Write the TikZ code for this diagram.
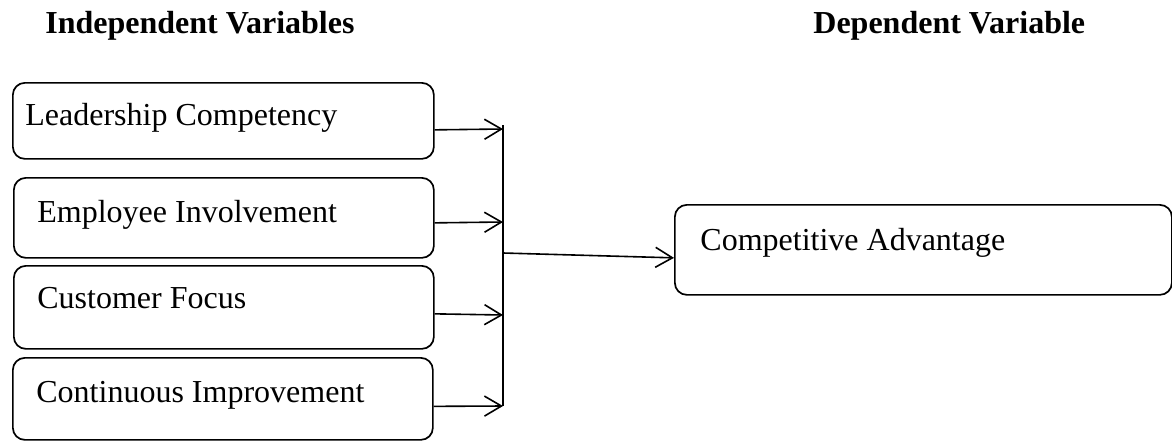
\documentclass[tikz,border=0pt]{standalone}
\usepackage{fontspec}
\setmainfont{Liberation Serif}
\usetikzlibrary{arrows.meta}
\begin{document}
\begin{tikzpicture}[x=0.5pt,y=-0.5pt,
  vbox/.style={draw,line width=0.85pt,rounded corners=6pt,inner sep=0pt,anchor=north west},
  txt/.style={anchor=base west,inner sep=0pt,font=\fontsize{16}{19}\selectfont},
  head/.style={anchor=base west,inner sep=0pt,font=\fontsize{16}{19}\selectfont\bfseries},
  arr/.style={line width=0.8pt,-{Straight Barb[length=8.5pt,width=10pt,line width=0.8pt]}},
  bar/.style={line width=0.8pt}]
\useasboundingbox (0,0) rectangle (1172,440);
\node[head] (h1) at (45,33) {Independent Variables};
\node[head] (h2) at (813,33) {Dependent Variable};
\node[vbox,minimum width=210.5pt,minimum height=38pt] (b1) at (12,82) {};
\node[vbox,minimum width=210pt,minimum height=40pt] (b2) at (13,177) {};
\node[vbox,minimum width=210pt,minimum height=41.5pt] (b3) at (13,265) {};
\node[vbox,minimum width=210pt,minimum height=41pt] (b4) at (12,357) {};
\node[vbox,minimum width=248.5pt,minimum height=45pt] (rb) at (674,204) {};
\node[txt] (t1) at (25,125) {Leadership Competency};
\node[txt] (t2) at (37,222) {Employee Involvement};
\node[txt] (t3) at (37,308) {Customer Focus};
\node[txt] (t4) at (36,402) {Continuous Improvement};
\node[txt] (t5) at (700,250) {Competitive Advantage};
\coordinate (top) at (503,125);
\coordinate (bot) at (503,406);
\coordinate (mid) at (503,253);
\coordinate (p1) at (503,129);
\coordinate (p2) at (503,222);
\coordinate (p3) at (503,315);
\coordinate (p4) at (503,406);
\draw[bar] (top) -- (bot);
\draw[arr] ([yshift=-4.5pt]b1.east) -- (p1);
\draw[arr] ([yshift=-2.5pt]b2.east) -- (p2);
\draw[arr] ([yshift=-3.25pt]b3.east) -- (p3);
\draw[arr] ([yshift=-3.75pt]b4.east) -- (p4);
\draw[arr] (mid) -- ([yshift=-4pt]rb.west);
\end{tikzpicture}
\end{document}
